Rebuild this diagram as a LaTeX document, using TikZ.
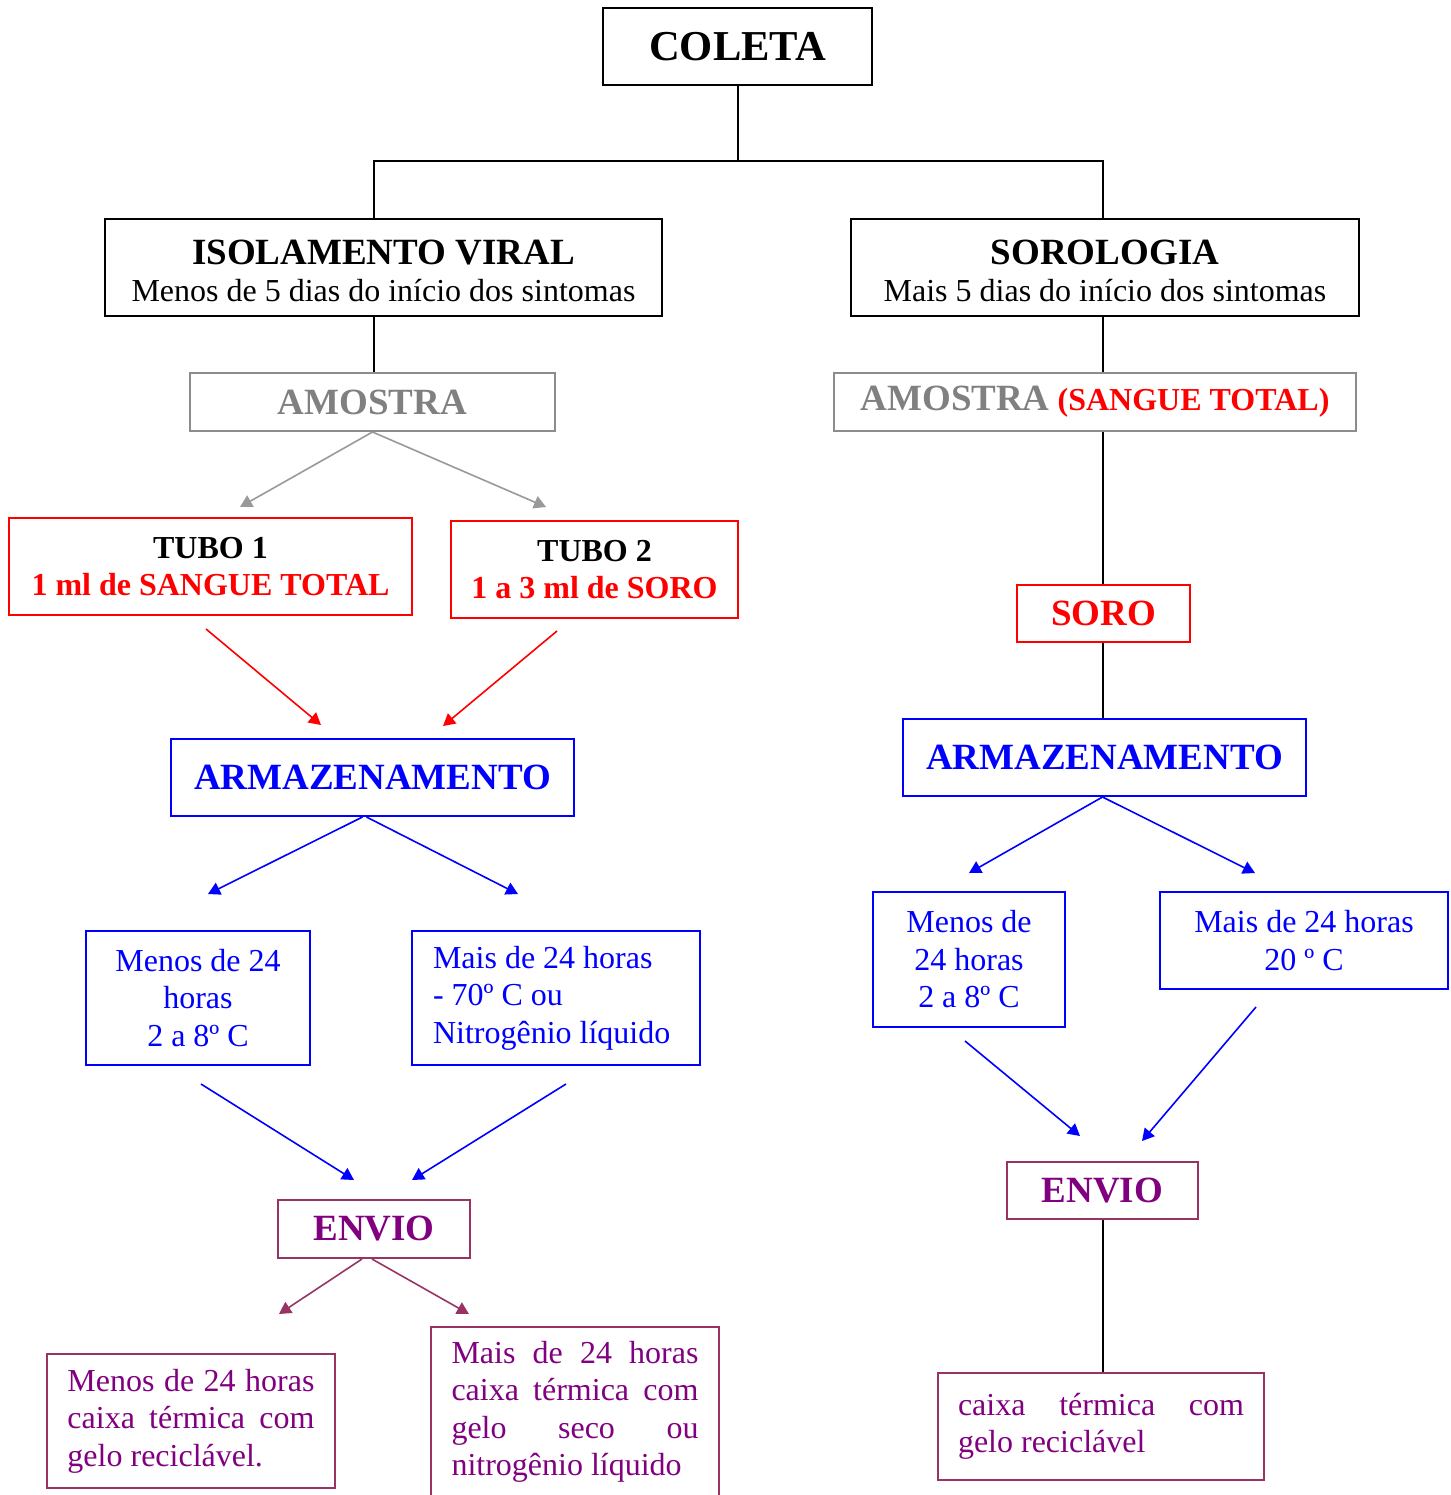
\documentclass[tikz,border=0pt]{standalone}
\usepackage{fontspec}
\setmainfont{Liberation Serif}
\usetikzlibrary{arrows.meta}

\definecolor{amtext}{HTML}{808080}
\definecolor{amline}{HTML}{8C8C8C}
\definecolor{amarrow}{HTML}{999999}
\definecolor{envtext}{HTML}{800080}
\definecolor{envline}{HTML}{993366}

\newcommand{\bodysz}{\fontsize{16pt}{18.75pt}\selectfont}
\newcommand{\headsz}{\fontsize{18.5pt}{19pt}\selectfont\bfseries}
\newcommand{\titlesz}{\fontsize{21.3pt}{24pt}\selectfont\bfseries}

\begin{document}
\begin{tikzpicture}[
  x=0.5pt, y=-0.5pt,
  box/.style={draw, line width=1pt, inner sep=0pt, align=center, font=\bodysz},
  tree/.style={line width=1pt},
  arr/.style={line width=0.8pt, -{Triangle[length=6pt,width=6.5pt]}},
  bluebox/.style={box, draw=blue, text=blue},
  envbox/.style={box, draw=envline, text=envtext},
]

\useasboundingbox (0,0) rectangle (1451,1495);

% ===== TOP: coleta and the two branches ========================================
\node[box, font=\titlesz, minimum width=134.5pt, minimum height=38.5pt] (coleta) at (737.5,46.5) {COLETA};

\node[box, minimum width=278.5pt, minimum height=48.5pt] (isolam) at (383.5,267.5)
  {{\headsz\rule{0pt}{15.8pt}ISOLAMENTO VIRAL}\\Menos de 5 dias do início dos sintomas};
\node[box, minimum width=254pt, minimum height=48.5pt] (sorolog) at (1105,267.5)
  {{\headsz\rule{0pt}{15.8pt}SOROLOGIA}\\Mais 5 dias do início dos sintomas};

\coordinate (forkL) at (374,161);
\coordinate (forkR) at (1103,161);
\draw[tree] (coleta.south) -- (coleta.south |- forkL);
\draw[tree] (forkL |- isolam.north) -- (forkL) -- (forkR) -- (forkR |- sorolog.north);

% ===== LEFT BRANCH: isolamento viral ===========================================
\node[box, draw=amline, text=amtext, font=\headsz, minimum width=182.5pt, minimum height=29pt] (amostraL) at (372.5,402) {AMOSTRA};
\draw[tree] (forkL |- isolam.south) -- (forkL |- amostraL.north);

\node[box, draw=red, font=\bodysz\bfseries, minimum width=201.5pt, minimum height=48.5pt] (tubo1) at (210.5,566.5)
  {TUBO 1\\\textcolor{red}{1 ml de SANGUE TOTAL}};
\node[box, draw=red, font=\bodysz\bfseries, minimum width=143.5pt, minimum height=48.5pt] (tubo2) at (594.5,569.5)
  {TUBO 2\\\textcolor{red}{1 a 3 ml de SORO}};

\coordinate (tubo1in) at (240,507);
\coordinate (tubo2in) at (546,507);
\draw[arr, amarrow] (amostraL.south) -- (tubo1in);
\draw[arr, amarrow] (amostraL.south) -- (tubo2in);

\node[bluebox, font=\headsz, minimum width=201.5pt, minimum height=38.5pt] (armazL) at (372.5,777.5) {ARMAZENAMENTO};

\coordinate (tubo1out) at (206,629);
\coordinate (tubo2out) at (557,631);
\coordinate (armazLin1) at (321,725);
\coordinate (armazLin2) at (443,726);
\draw[arr, red] (tubo1out) -- (armazLin1);
\draw[arr, red] (tubo2out) -- (armazLin2);

\node[bluebox, minimum width=112pt, minimum height=67pt] (menosL) at (198,998) {Menos de 24\\horas\\2 a 8º C};
\node[bluebox, align=flush left, text width=123pt, inner xsep=10.5pt, minimum height=67pt] (maisL) at (556,998)
  {Mais de 24 horas\\- 70º C ou\\Nitrogênio líquido};

\coordinate (menosLin) at (208,894);
\coordinate (maisLin) at (518,894);
\draw[arr, blue] ([xshift=-5pt]armazL.south) -- (menosLin);
\draw[arr, blue] ([xshift=-3pt]armazL.south) -- (maisLin);

\node[envbox, font=\headsz, minimum width=96pt, minimum height=29pt] (envioL) at (374,1229) {ENVIO};

\coordinate (menosLout) at (201,1084);
\coordinate (maisLout) at (566,1084);
\coordinate (envioLin1) at (354,1180);
\coordinate (envioLin2) at (412,1180);
\draw[arr, blue] (menosLout) -- (envioLin1);
\draw[arr, blue] (maisLout) -- (envioLin2);

\node[envbox, align=flush left, text width=123.5pt, inner xsep=10.25pt, minimum height=67pt] (caixaL1) at (191,1421)
  {Menos\hfill de\hfill 24\hfill horas\\caixa\hfill térmica\hfill com\\gelo reciclável.};
\node[envbox, align=flush left, text width=123.5pt, inner xsep=10.25pt, minimum height=85pt] (caixaL2) at (575,1412)
  {Mais\hfill de\hfill 24\hfill horas\\caixa\hfill térmica\hfill com\\gelo\hfill seco\hfill ou\\nitrogênio líquido};

\coordinate (caixaL1in) at (279,1314);
\coordinate (caixaL2in) at (469,1314);
\draw[arr, envline] ([xshift=-6pt]envioL.south) -- (caixaL1in);
\draw[arr, envline] ([xshift=-1pt]envioL.south) -- (caixaL2in);

% ===== RIGHT BRANCH: sorologia =================================================
\node[box, draw=amline, minimum width=261pt, minimum height=29pt] (amostraR) at (1095,402)
  {{\headsz\color{amtext}AMOSTRA} {\bfseries\color{red}(SANGUE TOTAL)}};
\draw[tree] (forkR |- sorolog.south) -- (forkR |- amostraR.north);

\node[box, draw=red, text=red, font=\headsz, minimum width=86.5pt, minimum height=28.5pt] (soro) at (1103.5,613.5) {SORO};
\draw[tree] (forkR |- amostraR.south) -- (forkR |- soro.north);

\node[bluebox, font=\headsz, minimum width=201.5pt, minimum height=38.5pt] (armazR) at (1104.5,757.5) {ARMAZENAMENTO};
\draw[tree] (forkR |- soro.south) -- (forkR |- armazR.north);

\node[bluebox, minimum width=96pt, minimum height=67.5pt] (menosR) at (969,959.5) {Menos de\\24 horas\\2 a 8º C};
\node[bluebox, minimum width=144pt, minimum height=48.5pt] (maisR) at (1304,940.5) {Mais de 24 horas\\20 º C};

\coordinate (menosRin) at (969,873);
\coordinate (maisRin) at (1255,873);
\draw[arr, blue] ([xshift=-1pt]armazR.south) -- (menosRin);
\draw[arr, blue] ([xshift=-1pt]armazR.south) -- (maisRin);

\node[envbox, font=\headsz, minimum width=95.5pt, minimum height=28.5pt] (envioR) at (1102.5,1190.5) {ENVIO};

\coordinate (menosRout) at (965,1041);
\coordinate (maisRout) at (1256,1007);
\coordinate (envioRin1) at (1080,1136);
\coordinate (envioRin2) at (1142,1141);
\draw[arr, blue] (menosRout) -- (envioRin1);
\draw[arr, blue] (maisRout) -- (envioRin2);

\node[envbox, align=flush left, text width=143pt, inner xsep=10pt, minimum height=53.5pt] (caixaR) at (1101,1426.5)
  {caixa\hfill térmica\hfill com\\gelo reciclável};
\draw[tree] (forkR |- envioR.south) -- (forkR |- caixaR.north);

\end{tikzpicture}
\end{document}
